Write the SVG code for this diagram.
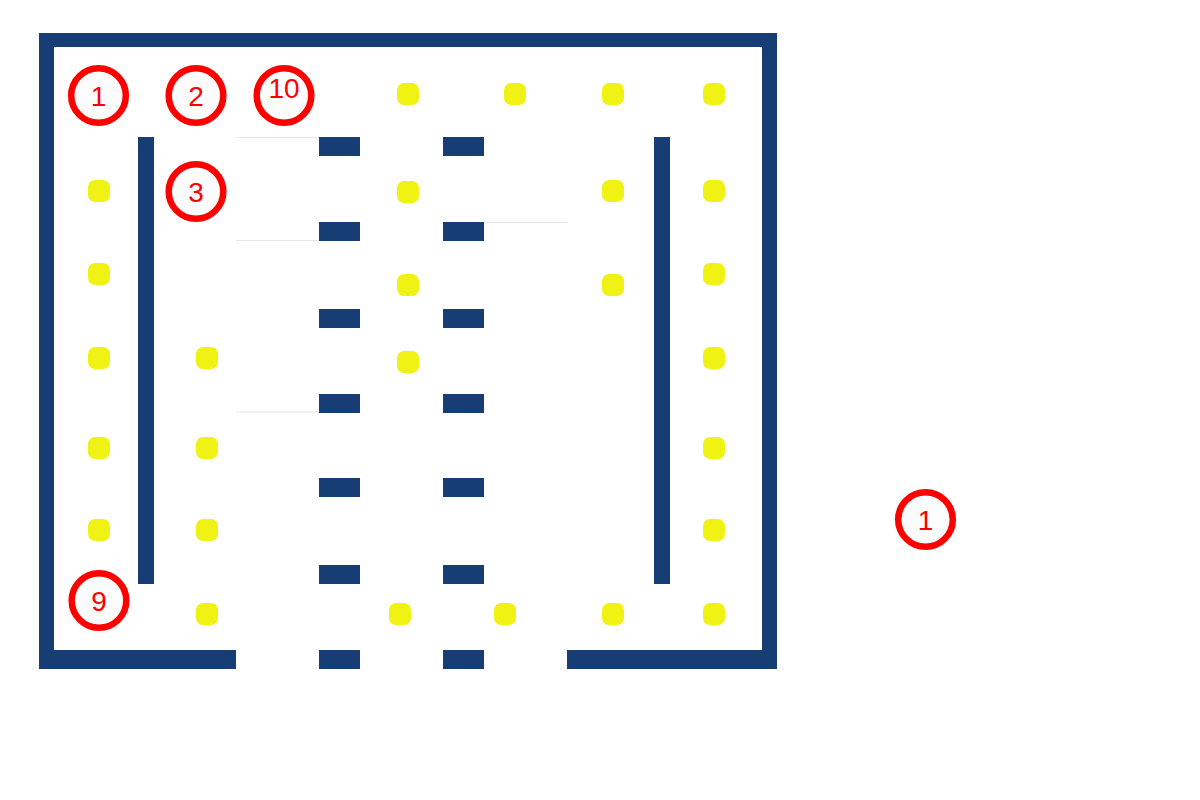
<svg xmlns="http://www.w3.org/2000/svg" width="1200" height="800" viewBox="0 0 1200 800">
<style>
.wall{fill:#163e74}
.dot{fill:#f0f214}
.thin{stroke:#e6e6ef;stroke-width:1.2;fill:none}
.mk circle{fill:#fcfcfc;stroke:#ff0000;stroke-width:6.5}
.mk text{fill:#ff0000;font-family:"Liberation Sans",Arial,sans-serif;font-size:28px;text-anchor:middle}
</style>
<rect width="1200" height="800" fill="#ffffff"/>
<g id="walls">
<rect class="wall" x="39" y="33" width="738" height="14"/>
<rect class="wall" x="39" y="33" width="15" height="636"/>
<rect class="wall" x="762" y="33" width="15" height="636"/>
<rect class="wall" x="39" y="650" width="197" height="19"/>
<rect class="wall" x="567" y="650" width="210" height="19"/>
<rect class="wall" x="138" y="137" width="16" height="447"/>
<rect class="wall" x="654" y="137" width="16" height="447"/>
</g>
<g id="dashes">
<rect class="wall" x="319" y="137" width="41" height="19"/>
<rect class="wall" x="443" y="137" width="41" height="19"/>
<rect class="wall" x="319" y="222" width="41" height="19"/>
<rect class="wall" x="443" y="222" width="41" height="19"/>
<rect class="wall" x="319" y="309" width="41" height="19"/>
<rect class="wall" x="443" y="309" width="41" height="19"/>
<rect class="wall" x="319" y="394" width="41" height="19"/>
<rect class="wall" x="443" y="394" width="41" height="19"/>
<rect class="wall" x="319" y="478" width="41" height="19"/>
<rect class="wall" x="443" y="478" width="41" height="19"/>
<rect class="wall" x="319" y="565" width="41" height="19"/>
<rect class="wall" x="443" y="565" width="41" height="19"/>
<rect class="wall" x="319" y="650" width="41" height="19"/>
<rect class="wall" x="443" y="650" width="41" height="19"/>
</g>
<g id="connectors">
<line class="thin" x1="236" y1="137.5" x2="319" y2="137.5"/>
<line class="thin" x1="236" y1="240.5" x2="319" y2="240.5"/>
<line class="thin" x1="484" y1="222.5" x2="568" y2="222.5"/>
<line class="thin" x1="236" y1="412" x2="319" y2="412"/>
</g>
<g id="dots">
<rect class="dot" x="397" y="83" width="22" height="22" rx="7"/>
<rect class="dot" x="504" y="83" width="22" height="22" rx="7"/>
<rect class="dot" x="602" y="83" width="22" height="22" rx="7"/>
<rect class="dot" x="703" y="83" width="22" height="22" rx="7"/>
<rect class="dot" x="88" y="180" width="22" height="22" rx="7"/>
<rect class="dot" x="397" y="181" width="22" height="22" rx="7"/>
<rect class="dot" x="602" y="180" width="22" height="22" rx="7"/>
<rect class="dot" x="703" y="180" width="22" height="22" rx="7"/>
<rect class="dot" x="88" y="263" width="22" height="22" rx="7"/>
<rect class="dot" x="703" y="263" width="22" height="22" rx="7"/>
<rect class="dot" x="397" y="274" width="22" height="22" rx="7"/>
<rect class="dot" x="602" y="274" width="22" height="22" rx="7"/>
<rect class="dot" x="88" y="347" width="22" height="22" rx="7"/>
<rect class="dot" x="196" y="347" width="22" height="22" rx="7"/>
<rect class="dot" x="703" y="347" width="22" height="22" rx="7"/>
<rect class="dot" x="397" y="351" width="22" height="22" rx="7"/>
<rect class="dot" x="88" y="437" width="22" height="22" rx="7"/>
<rect class="dot" x="196" y="437" width="22" height="22" rx="7"/>
<rect class="dot" x="703" y="437" width="22" height="22" rx="7"/>
<rect class="dot" x="88" y="519" width="22" height="22" rx="7"/>
<rect class="dot" x="196" y="519" width="22" height="22" rx="7"/>
<rect class="dot" x="703" y="519" width="22" height="22" rx="7"/>
<rect class="dot" x="196" y="603" width="22" height="22" rx="7"/>
<rect class="dot" x="389" y="603" width="22" height="22" rx="7"/>
<rect class="dot" x="494" y="603" width="22" height="22" rx="7"/>
<rect class="dot" x="602" y="603" width="22" height="22" rx="7"/>
<rect class="dot" x="703" y="603" width="22" height="22" rx="7"/>
</g>
<g id="marker-1a" class="mk"><circle cx="98.5" cy="95.5" r="27.3"/><text x="98.5" y="106">1</text></g>
<g id="marker-2" class="mk"><circle cx="196" cy="95.5" r="27.3"/><text x="196" y="106">2</text></g>
<g id="marker-10" class="mk"><circle cx="284" cy="95.5" r="27.3"/><text x="284" y="98">10</text></g>
<g id="marker-3" class="mk"><circle cx="196" cy="191.5" r="27.3"/><text x="196" y="202">3</text></g>
<g id="marker-9" class="mk"><circle cx="99" cy="600.5" r="27.3"/><text x="99" y="611">9</text></g>
<g id="marker-1b" class="mk"><circle cx="925.5" cy="519.5" r="27.3"/><text x="925.5" y="530">1</text></g>
</svg>
